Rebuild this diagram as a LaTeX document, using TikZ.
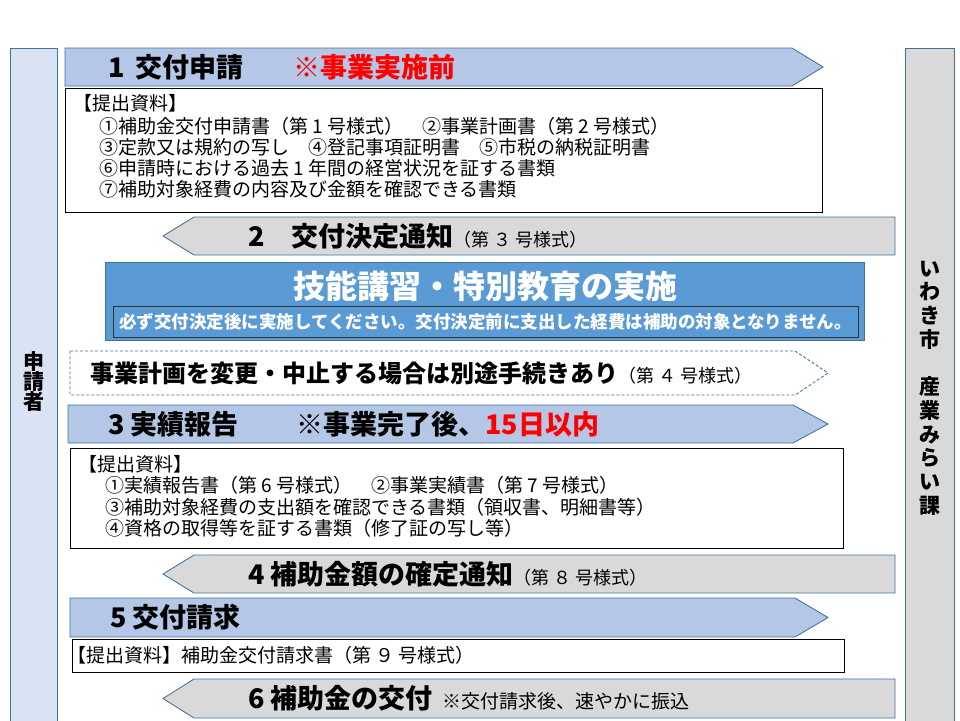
\documentclass[tikz,border=0pt]{standalone}
\usepackage{fontspec}
\setmainfont{Noto Sans CJK JP}
\definecolor{r65g113b156}{RGB}{65,113,156}%
\definecolor{r180g199b231}{RGB}{180,199,231}%
\definecolor{r217g217b217}{RGB}{217,217,217}%
\definecolor{r218g227b243}{RGB}{218,227,243}%
\definecolor{r91g155b213}{RGB}{91,155,213}%
\definecolor{r255g0b0}{RGB}{255,0,0}%
\newcommand{\formsize}{\fontsize{18}{20}\selectfont}
\begin{document}
\begin{tikzpicture}[x=1pt,y=-1pt,
    frame/.style={line width=0.03cm, draw=r65g113b156},
    gofwd/.style={frame, fill=r180g199b231},
    goback/.style={frame, fill=r217g217b217},
    docbox/.style={line width=0.03cm, draw=black, fill=white},
    head/.style={anchor=west, inner sep=0pt, font=\bfseries\fontsize{27}{30}\selectfont},
    doc/.style={anchor=west, inner sep=0pt, font=\fontsize{19}{21}\selectfont}]
{
% Page frame
\useasboundingbox (0,0) rectangle (960,720);
\clip (0,0) rectangle (960,720);

% Drawing side columns
\draw [frame, fill=r218g227b243] (10,48) rectangle (57,730);%
\draw (33.5,382) node (applicant) [inner sep=0pt, align=center, font=\bfseries\fontsize{21}{20}\selectfont] {申\\請\\者};%
\draw [frame, fill=r217g217b217] (905,48) rectangle (954,730);%
\draw (929.5,388) node (office) [inner sep=0pt, align=center, font=\bfseries\fontsize{21}{23.7}\selectfont] {い\\わ\\き\\市\\[23.7pt]産\\業\\み\\ら\\い\\課};%

% Drawing step 1
\draw [gofwd] (65,48) -- (792,48) -- (823,67) -- (792,86) -- (65,86) -- cycle;%
\draw (108,67) node (head1) [head] {1\hspace{5pt} 交付申請};%
\draw (293,67) node (note1) [head, text=r255g0b0] {※事業実施前};%
\draw [docbox] (65,88) rectangle (822,212);%
\draw (73,103) node (docs1) [doc] {【提出資料】};%
\draw (99,126) node (docs1a) [doc] {①補助金交付申請書（第 1 号様式）　②事業計画書（第 2 号様式）};%
\draw (99,147) node (docs1b) [doc] {③定款又は規約の写し　④登記事項証明書　⑤市税の納税証明書};%
\draw (99,168) node (docs1c) [doc] {⑥申請時における過去 1 年間の経営状況を証する書類};%
\draw (99,189) node (docs1d) [doc] {⑦補助対象経費の内容及び金額を確認できる書類};%

% Drawing step 2
\draw [goback] (895,217) -- (194,217) -- (163,236) -- (194,255) -- (895,255) -- cycle;%
\draw (248,236) node (head2) [head] {2　交付決定通知{\mdseries\formsize （第 ３ 号様式）}};%

% Drawing training box
\draw [frame, fill=r91g155b213] (105,262) rectangle (864,340);%
\draw (485,286) node (training) [inner sep=0pt, text=white, font=\bfseries\fontsize{32}{40}\selectfont] {技能講習・特別教育の実施};%
\draw [line width=0.03cm, draw=black!80] (113,306) rectangle (858,337);%
\draw (485.5,321.5) node (caution) [inner sep=0pt, text=white, font=\bfseries\fontsize{17.5}{20}\selectfont] {必ず交付決定後に実施してください。交付決定前に支出した経費は補助の対象となりません。};%

% Drawing change notice
\draw [frame, dash pattern=on 3pt off 2pt, fill=white] (70,351) -- (795,351) -- (828,373) -- (795,395) -- (70,395) -- cycle;%
\draw (90,373) node (change) [head, font=\bfseries\fontsize{24}{30}\selectfont] {事業計画を変更・中止する場合は別途手続きあり{\mdseries\formsize （第 ４ 号様式）}};%

% Drawing step 3
\draw [gofwd] (68,405) -- (793,405) -- (828,424) -- (793,443) -- (68,443) -- cycle;%
\draw (108,424) node (head3) [head] {3 実績報告};%
\draw (296,424) node (note3) [head] {※事業完了後、\textcolor{r255g0b0}{15日以内}};%
\draw [docbox] (70,448) rectangle (843,548);%
\draw (78,464) node (docs3) [doc] {【提出資料】};%
\draw (105,485) node (docs3a) [doc] {①実績報告書（第 6 号様式）　②事業実績書（第 7 号様式）};%
\draw (105,507) node (docs3b) [doc] {③補助対象経費の支出額を確認できる書類（領収書、明細書等）};%
\draw (105,528) node (docs3c) [doc] {④資格の取得等を証する書類（修了証の写し等）};%

% Drawing step 4
\draw [goback] (895,555) -- (194,555) -- (163,574) -- (194,593) -- (895,593) -- cycle;%
\draw (248,574) node (head4) [head] {4 補助金額の確定通知{\mdseries\formsize （第 ８ 号様式）}};%

% Drawing step 5
\draw [gofwd] (70,598) -- (795,598) -- (828,617.5) -- (795,637) -- (70,637) -- cycle;%
\draw (110,617.5) node (head5) [head] {5 交付請求};%
\draw [docbox] (72,639) rectangle (844,672);%
\draw (67,655.5) node (docs5) [doc] {【提出資料】補助金交付請求書（第 ９ 号様式）};%

% Drawing step 6
\draw [goback] (895,679) -- (194,679) -- (163,698.5) -- (194,718) -- (895,718) -- cycle;%
\draw (248,698.5) node (head6) [head] {6 補助金の交付\hspace{10pt}{\mdseries\fontsize{19}{20}\selectfont ※交付請求後、速やかに振込}};%
}
\end{tikzpicture}
\end{document}
